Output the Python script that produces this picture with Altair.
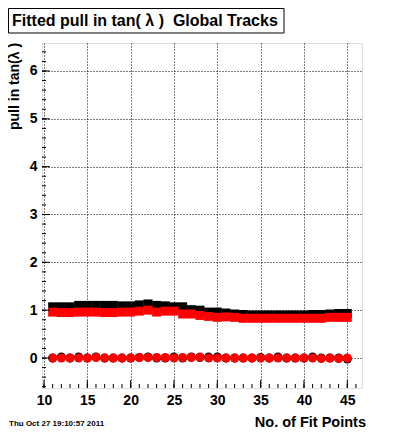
import altair as alt
import pandas as pd
import numpy as np

# ---- data ----
fit_points = list(range(11, 46))
black_width = [1.07, 1.07, 1.07, 1.10, 1.10, 1.10, 1.10, 1.10, 1.09, 1.09,
               1.11, 1.13, 1.10, 1.09, 1.07, 1.07, 1.01, 1.00, 0.96, 0.96,
               0.94, 0.92, 0.91, 0.90, 0.90, 0.90, 0.90, 0.90, 0.90, 0.90,
               0.91, 0.91, 0.92, 0.93, 0.93]
red_width = [0.96, 0.95, 0.95, 0.96, 0.96, 0.96, 0.95, 0.95, 0.96, 0.96,
             0.98, 1.00, 0.96, 0.98, 0.98, 0.92, 0.92, 0.89, 0.87, 0.85,
             0.86, 0.85, 0.83, 0.83, 0.83, 0.83, 0.83, 0.83, 0.83, 0.83,
             0.83, 0.83, 0.85, 0.85, 0.85]
black_mean = [0.00, 0.02, 0.00, 0.02, 0.00, 0.02, 0.00, 0.00, 0.00, 0.00,
              0.01, 0.02, 0.00, 0.00, 0.02, 0.00, 0.02, 0.01, 0.02, 0.02,
              0.00, 0.00, 0.00, 0.00, 0.01, 0.00, 0.02, 0.00, 0.00, 0.00,
              0.02, 0.00, 0.00, 0.00, -0.02]
red_mean = [0.00, 0.00, 0.00, 0.00, 0.00, 0.01, 0.00, 0.00, 0.00, 0.00,
            0.01, 0.01, 0.01, 0.01, 0.00, 0.01, 0.01, 0.02, 0.00, 0.00,
            0.00, 0.00, 0.00, 0.00, 0.00, 0.00, 0.00, 0.00, 0.00, 0.00,
            0.00, -0.01, 0.00, -0.01, 0.00]

x_ticks = [10, 15, 20, 25, 30, 35, 40, 45]
y_ticks = [0, 1, 2, 3, 4, 5, 6]

title_text = "Fitted pull in tan( \u03bb )\u00a0 Global Tracks"
y_title = "pull in tan(\u03bb )"
x_title = "No. of Fit Points"
date_text = "Thu Oct 27 19:10:57 2011"

W, H = 320, 345
XDOM = [9.77, 46.70]
YDOM = [-0.627, 6.585]
FONT = "Liberation Sans"

xs = alt.Scale(domain=XDOM, nice=False, zero=False)
ys = alt.Scale(domain=YDOM, nice=False, zero=False)

def series(vals):
    return pd.DataFrame({"n": fit_points, "v": vals})

base_x = alt.X("n:Q", scale=xs, axis=alt.Axis(values=x_ticks, title=None, grid=True,
               gridDash=[1, 2], gridColor="black", gridOpacity=1, gridWidth=1,
               ticks=False, domain=False, labelFont=FONT, labelFontWeight="bold",
               labelFontSize=14, labelPadding=5, labelColor="black", labelFlush=False))
base_y = alt.Y("v:Q", scale=ys, axis=alt.Axis(values=y_ticks, title=None, grid=True,
               gridDash=[1, 2], gridColor="black", gridOpacity=1, gridWidth=1,
               ticks=False, domain=False, labelFont=FONT, labelFontWeight="bold",
               labelFontSize=14, labelPadding=5, labelColor="black"))

layers = []

# points
layers.append(alt.Chart(series(black_width)).mark_point(shape="square", filled=True,
              color="black", size=81, opacity=1).encode(x=base_x, y=base_y))
layers.append(alt.Chart(series(red_width)).mark_point(shape="square", filled=True,
              color="#ff0000", size=81, opacity=1).encode(x=alt.X("n:Q", scale=xs), y=alt.Y("v:Q", scale=ys)))
layers.append(alt.Chart(series(black_mean)).mark_point(shape="circle", filled=True,
              color="black", size=81, opacity=1).encode(x=alt.X("n:Q", scale=xs), y=alt.Y("v:Q", scale=ys)))
layers.append(alt.Chart(series(red_mean)).mark_point(shape="circle", filled=True,
              color="#ff0000", size=81, opacity=1).encode(x=alt.X("n:Q", scale=xs), y=alt.Y("v:Q", scale=ys)))

# inward ticks
xmin = pd.DataFrame({"n": list(range(10, 47))})
xmaj = pd.DataFrame({"n": x_ticks})
ymin = pd.DataFrame({"v": [round(v, 1) for v in np.arange(-0.6, 6.6, 0.2)]})
ymaj = pd.DataFrame({"v": y_ticks})
layers.append(alt.Chart(xmin).mark_rule(color="black").encode(
    x=alt.X("n:Q", scale=xs), y=alt.value(H), y2=alt.value(H - 4)))
layers.append(alt.Chart(xmaj).mark_rule(color="black").encode(
    x=alt.X("n:Q", scale=xs), y=alt.value(H), y2=alt.value(H - 8)))
layers.append(alt.Chart(ymin).mark_rule(color="black").encode(
    y=alt.Y("v:Q", scale=ys), x=alt.value(0), x2=alt.value(4)))
layers.append(alt.Chart(ymaj).mark_rule(color="black").encode(
    y=alt.Y("v:Q", scale=ys), x=alt.value(0), x2=alt.value(8)))

# title box
one = pd.DataFrame({"a": [0]})
layers.append(alt.Chart(one).mark_rect(fill="white", stroke="black", strokeWidth=1).encode(
    x=alt.value(-33.5), x2=alt.value(242), y=alt.value(-34.5), y2=alt.value(-10)))
layers.append(alt.Chart(pd.DataFrame({"t": [title_text]})).mark_text(
    font=FONT, fontWeight="bold", fontSize=16, align="left", baseline="alphabetic",
    color="black").encode(text="t:N", x=alt.value(-30), y=alt.value(-17)))
layers.append(alt.Chart(pd.DataFrame({"t": [y_title]})).mark_text(
    font=FONT, fontWeight="bold", fontSize=14, align="left", baseline="middle",
    angle=270, color="black").encode(text="t:N", x=alt.value(-27), y=alt.value(87)))
layers.append(alt.Chart(pd.DataFrame({"t": [x_title]})).mark_text(
    font=FONT, fontWeight="bold", fontSize=14.5, align="right", baseline="alphabetic",
    color="black").encode(text="t:N", x=alt.value(324), y=alt.value(384)))
layers.append(alt.Chart(pd.DataFrame({"t": [date_text]})).mark_text(
    font=FONT, fontWeight="bold", fontSize=8, align="left", baseline="alphabetic",
    color="black").encode(text="t:N", x=alt.value(-33), y=alt.value(383)))

chart = alt.layer(*layers).properties(
    width=W, height=H,
    autosize=alt.AutoSizeParams(type="none"),
    padding={"left": 34, "top": 35, "right": 30, "bottom": 45},
).configure_view(stroke="black", strokeWidth=1).configure(background="white")

chart.save("out.html", embed_options={"renderer": "svg", "actions": False})
